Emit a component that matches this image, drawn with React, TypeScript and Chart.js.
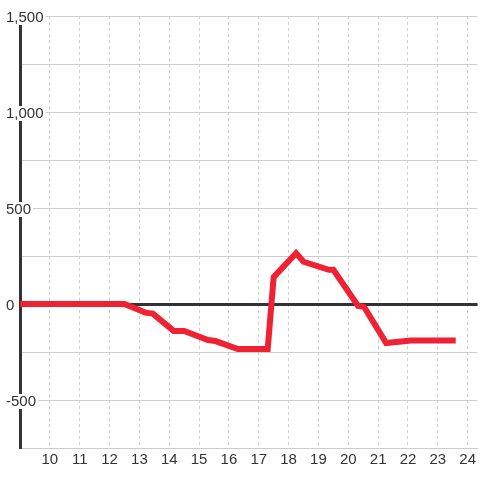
import React, { useEffect, useRef } from "react";
import { Chart, registerables } from "chart.js";

Chart.register(...registerables);

const hours = [9, 12.5, 13.2, 13.45, 14.15, 14.5, 15.3, 15.55, 16.3, 17.3, 17.5, 18.25, 18.5, 19.35, 19.5, 20.33, 20.53, 21.27, 22.1, 23.6];
const values = [0, 0, -45, -50, -140, -140, -188, -193, -235, -235, 140, 265, 220, 178, 178, -10, -15, -203, -190, -190];
const xTickMin = 9;
const xTickMax = 24.333;
const yMin = -750;
const yMax = 1500;

export default function App() {
  const ref = useRef<HTMLCanvasElement>(null);
  useEffect(() => {
    if (!ref.current) return;
    const font = { family: "'Liberation Sans', Arial, sans-serif", size: 15, lineHeight: 1.0 };
    const chart = new Chart(ref.current, {
      type: "line",
      data: {
        datasets: [
          {
            data: hours.map((h, i) => ({ x: h, y: values[i] })),
            borderColor: "#ee2233",
            borderWidth: 6,
            pointRadius: 0,
            tension: 0,
            fill: false,
          },
        ],
      },
      options: {
        animation: false,
        responsive: false,
        maintainAspectRatio: false,
        layout: { padding: { left: 6, top: 16, right: 0, bottom: 0 } },
        plugins: { legend: { display: false }, tooltip: { enabled: false } },
        scales: {
          x: {
            type: "linear",
            min: xTickMin,
            max: xTickMax,
            grid: { color: "#cccccc", lineWidth: 1, drawTicks: false },
            border: { display: false, dash: [3, 3] },
            ticks: {
              stepSize: 1,
              includeBounds: false,
              color: "#333333",
              font,
              padding: 4,
              maxRotation: 0,
              autoSkip: false,
              callback: (v: any) => (v === 9 ? "" : String(v)),
            },
            afterFit: (s: any) => {
              s.height = 32;
            },
          },
          y: {
            type: "linear",
            min: yMin,
            max: yMax,
            grid: {
              drawTicks: false,
              color: (c: any) => (c.tick && c.tick.value === 0 ? "#333333" : "#cccccc"),
              lineWidth: (c: any) => (c.tick && c.tick.value === 0 ? 3 : 1),
            },
            border: { display: true, color: "#333333", width: 3 },
            ticks: {
              stepSize: 250,
              color: "#333333",
              font,
              mirror: true,
              crossAlign: "near",
              padding: -14,
              labelOffset: 1.5,
              autoSkip: false,
              showLabelBackdrop: (c: any) => c.tick && c.tick.value % 500 === 0,
              backdropColor: "#ffffff",
              backdropPadding: { left: 2, right: 2, top: 0, bottom: 0 },
              callback: (v: any) => (Number(v) % 500 === 0 ? Number(v).toLocaleString("en-US") : ""),
            },
            afterFit: (s: any) => {
              s.width = 14;
            },
          },
        },
      },
    });
    return () => chart.destroy();
  }, []);
  return (
    <div style={{ position: "fixed", left: 0, top: 0, width: 480, height: 480, background: "#fff" }}>
      <canvas ref={ref} width={480} height={480} style={{ display: "block" }} />
    </div>
  );
}
